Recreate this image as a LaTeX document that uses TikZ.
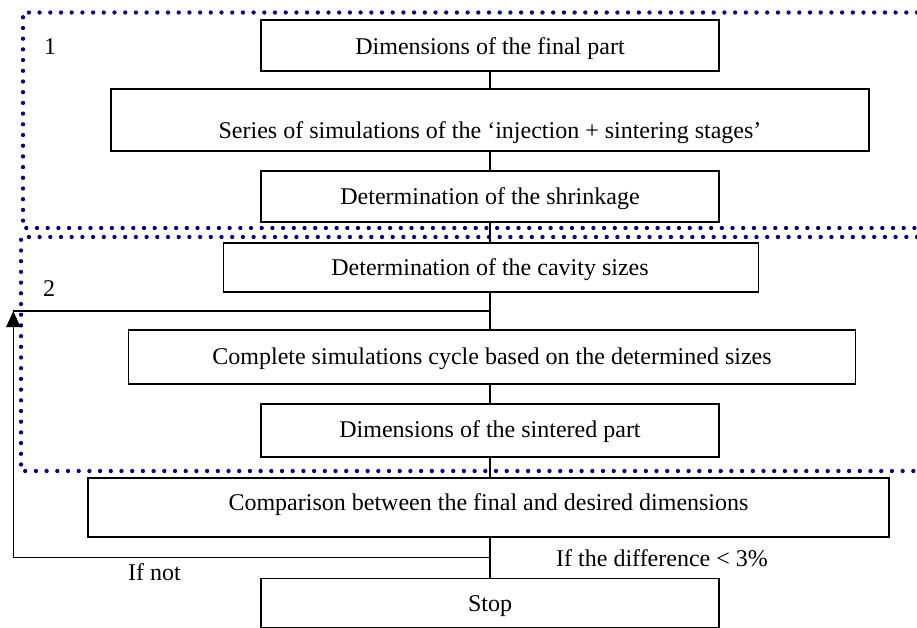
\documentclass[tikz,border=0pt]{standalone}
\usepackage{fontspec}
\setmainfont{Liberation Serif}
\usetikzlibrary{arrows.meta}
\definecolor{dotblue}{RGB}{0,0,128}
\begin{document}
\begin{tikzpicture}[x=1pt,y=-1pt,
  box/.style={draw=black, line width=1.8pt, rectangle, inner sep=0pt},
  txt/.style={anchor=base, inner sep=0pt, font=\fontsize{24}{28}\selectfont},
  conn/.style={draw=black, line width=1.6pt},
  dotline/.style={draw=dotblue, line width=4.3pt, line cap=round, dash pattern=on 0pt off 10.7pt}]
\useasboundingbox (0,0) rectangle (917,628);

% dotted regions
\draw[dotline] (917,12.5) -- (23,12.5) -- (23,228) -- (917,228);
\draw[dotline] (917,237) -- (21,237) -- (21,471) -- (917,471);

% boxes
\node[box, minimum width=458pt, minimum height=51pt] (b1) at (490,45.5) {};
\node[box, minimum width=758pt, minimum height=62pt] (b2) at (490,120) {};
\node[box, minimum width=458pt, minimum height=51pt] (b3) at (490,196.5) {};
\node[box, minimum width=535pt, minimum height=49.5pt] (b4) at (491,267.5) {};
\node[box, minimum width=727pt, minimum height=54pt] (b5) at (492,357) {};
\node[box, minimum width=458pt, minimum height=53pt] (b6) at (490,430.5) {};
\node[box, minimum width=801pt, minimum height=59pt] (b7) at (488.5,507.5) {};
\node[box, minimum width=458pt, minimum height=49pt] (b8) at (490,603) {};

% texts
\node[txt] (t1) at (490,54.3) {Dimensions of the final part};
\node[txt] (t2) at (490,138.3) {Series of simulations of the ‘injection + sintering stages’};
\node[txt] (t3) at (490,204.8) {Determination of the shrinkage};
\node[txt] (t4) at (490,275.5) {Determination of the cavity sizes};
\node[txt] (t5) at (492,364.3) {Complete simulations cycle based on the determined sizes};
\node[txt] (t6) at (490,437.5) {Dimensions of the sintered part};
\node[txt] (t7) at (488.5,510) {Comparison between the final and desired dimensions};
\node[txt] (t8) at (490,611.7) {Stop};
\node[txt, anchor=base west] (l1) at (44,55) {1};
\node[txt, anchor=base west] (l2) at (43,296.7) {2};
\node[txt, anchor=base west] (ly) at (556,566.7) {If the difference < 3\%};
\node[txt, anchor=base west] (ln) at (128,580) {If not};

% connectors
\coordinate (j1) at (490,311);
\coordinate (j2) at (490,557.3);
\coordinate (c1) at (13.3,557.3);
\coordinate (c2) at (13.3,311);
\draw[conn] (b1.south -| j1) -- (b2.north -| j1);
\draw[conn] (b2.south -| j1) -- (b3.north -| j1);
\draw[conn] (b3.south -| j1) -- (b4.north -| j1);
\draw[conn] (b4.south -| j1) -- (b5.north -| j1);
\draw[conn] (b5.south -| j1) -- (b6.north -| j1);
\draw[conn] (b6.south -| j1) -- (b7.north -| j1);
\draw[conn] (b7.south -| j1) -- (b8.north -| j1);
\draw[conn] (j1) -- (c2);
\draw[conn, -{Triangle[length=16pt,width=14pt]}] (j2) -- (c1) -- (c2);
\end{tikzpicture}
\end{document}
